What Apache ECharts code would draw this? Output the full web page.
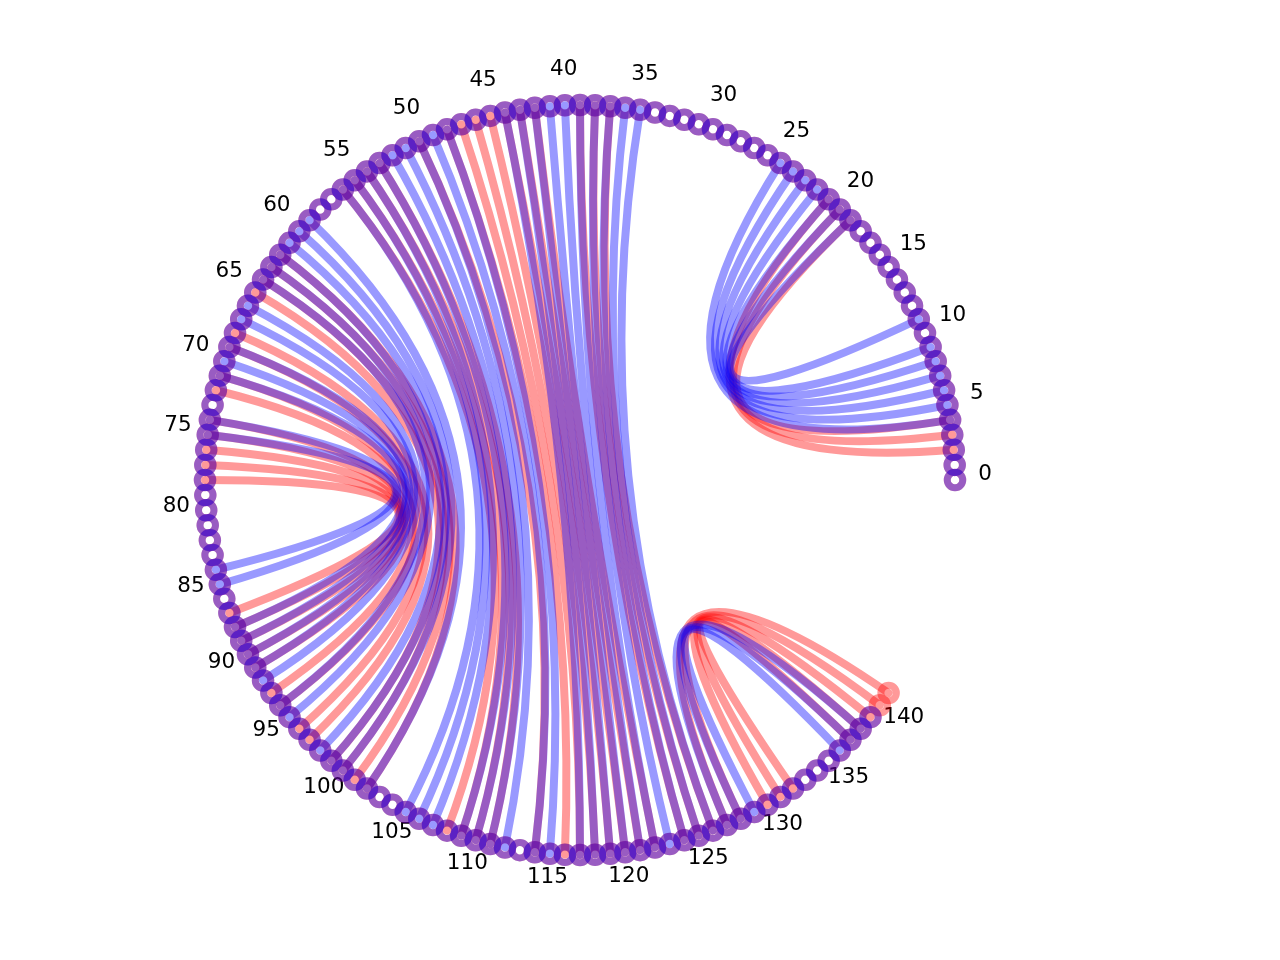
<!DOCTYPE html>
<html>
<head>
<meta charset="utf-8">
<style>html,body{margin:0;padding:0;background:#fff;overflow:hidden}#c{width:1280px;height:960px;filter:blur(0.55px)}</style>
<script src="https://cdn.jsdelivr.net/npm/echarts@6/dist/echarts.min.js"></script>
</head>
<body>
<div id="c"></div>
<script>
const stepsAroundCircle = 156;
const redNodeCount = 142;
const blueNodeCount = 140;
const tickLabels = [0,5,10,15,20,25,30,35,40,45,50,55,60,65,70,75,80,85,90,95,100,105,110,115,120,125,130,135,140];

const redRightA = [2,3,4];
const redRightB = [21,20,19];
const blueRightA = [4,5,6,7,8,9,11];
const blueRightB = [25,24,23,22,21,20,19];

const redMidA = [37,38,39,42,43,44,45,46,47,48,50,53,54,55,56];
const redMidB = [126,125,124,122,121,120,119,118,117,116,114,111,110,109,108];
const blueMidA = [35,36,37,38,39,40,41,42,43,44,48,49,50,51,52,53,54,55,56];
const blueMidB = [126,125,124,123,122,121,120,119,118,117,115,114,112,111,110,109,107,106,105];

const redLeftA = [62,63,64,65,68,69,71,72,74,75,76,77,78];
const redLeftB = [102,101,100,99,97,96,94,93,91,90,89,88,87];
const blueLeftA = [59,60,61,62,63,64,66,67,69,70,71,74,75];
const blueLeftB = [102,100,99,98,95,94,92,91,90,89,88,85,84];

const redLoopA = [127,128,130,131,132];
const redLoopB = [141,140,139,138,137];
const blueLoopA = [127,128,129];
const blueLoopB = [138,137,136];

const RED = 'rgba(255,0,0,0.4)';
const BLUE = 'rgba(0,0,255,0.4)';

function zip(a, b) { return a.map((v, k) => [1, v, b[k]]); }
const redEdges = [].concat(zip(redRightA, redRightB), zip(redMidA, redMidB), zip(redLeftA, redLeftB), zip(redLoopA, redLoopB));
const blueEdges = [].concat(zip(blueRightA, blueRightB), zip(blueMidA, blueMidB), zip(blueLeftA, blueLeftB), zip(blueLoopA, blueLoopB));

function ringSeries(count, color) {
  const data = [];
  for (let i = 0; i < count; i++) data.push([1, i]);
  return {
    type: 'scatter', coordinateSystem: 'polar', silent: true, animation: false,
    symbol: 'circle', symbolSize: 15.5, data: data, clip: false,
    itemStyle: { color: 'transparent', borderColor: color, borderWidth: 7, opacity: 1 },
    emphasis: { disabled: true }
  };
}
function edgeSeries(data, color) {
  return {
    type: 'custom', coordinateSystem: 'polar', silent: true, animation: false, clip: false,
    data: data, encode: { radius: 0, angle: [1, 2] },
    renderItem: function (params, api) {
      const p0 = api.coord([1, api.value(1)]);
      const p1 = api.coord([1, api.value(2)]);
      const c = api.coord([0, 0]);
      return {
        type: 'bezierCurve',
        shape: { x1: p0[0], y1: p0[1], x2: p1[0], y2: p1[1], cpx1: c[0], cpy1: c[1] },
        style: { stroke: color, lineWidth: 8, fill: null, lineCap: 'round' }
      };
    }
  };
}

const chart = echarts.init(document.getElementById('c'), null, { renderer: 'canvas', width: 1280, height: 960 });
chart.setOption({
  animation: false,
  backgroundColor: '#ffffff',
  polar: { center: [580, 480], radius: 405 },
  radiusAxis: { show: false, type: 'value', min: 0, max: 1.08 },
  angleAxis: { show: false, type: 'value', min: 0, max: stepsAroundCircle, startAngle: 0, clockwise: false },
  series: [
    ringSeries(redNodeCount, RED),
    ringSeries(blueNodeCount, BLUE),
    edgeSeries(redEdges, RED),
    edgeSeries(blueEdges, BLUE),
    {
      type: 'custom', coordinateSystem: 'polar', silent: true, animation: false, clip: false,
      data: tickLabels.map(t => [1.08, t]), encode: { radius: 0, angle: 1 },
      renderItem: function (params, api) {
        const p = api.coord([api.value(0), api.value(1)]);
        return {
          type: 'text',
          style: {
            text: String(api.value(1)), x: p[0], y: p[1] - 6,
            fill: '#000000', align: 'center', verticalAlign: 'middle',
            fontFamily: 'DejaVu Sans', fontSize: 21.5
          }
        };
      }
    }
  ]
});
</script>
</body>
</html>
